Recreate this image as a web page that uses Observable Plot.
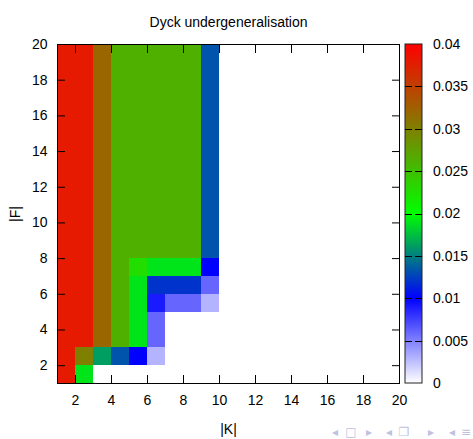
<!DOCTYPE html>
<html><head><meta charset="utf-8">
<script src="https://cdn.jsdelivr.net/npm/d3@7"></script>
<script src="https://cdn.jsdelivr.net/npm/@observablehq/plot@0.6"></script>
<style>body{margin:0;background:#fff} svg{display:block}</style>
</head><body><div id="chart"></div>
<script>
const title = "Dyck undergeneralisation";
const xLabel = "|K|";
const yLabel = "|F|";
const kTicks = [2, 4, 6, 8, 10, 12, 14, 16, 18, 20];
const fTicks = [2, 4, 6, 8, 10, 12, 14, 16, 18, 20];
const colorTicks = [0, 0.005, 0.01, 0.015, 0.02, 0.025, 0.03, 0.035, 0.04];
const colorTickLabels = ["0", "0.005", "0.01", "0.015", "0.02", "0.025", "0.03", "0.035", "0.04"];
const colorStops = [0, 0.01, 0.02, 0.04];
const colorRange = ["#ffffff", "#0000ff", "#00ff00", "#ff0000"];
const navSymbols = ["◂", "□", "▸", "◂", "❐", "▸", "◂", "≡"];

// values per row, for |K| = 1, 2, 3, ... (row starts at the given |F|)
const rowF1 = [0.038, 0.019];
const rowF2 = [0.038, 0.030, 0.0162, 0.0133, 0.010, 0.003];
const rowF3 = [0.038, 0.038, 0.032, 0.0262, 0.019, 0.006];
const rowF4 = [0.038, 0.038, 0.032, 0.0262, 0.019, 0.006];
const rowF5 = [0.038, 0.038, 0.032, 0.0262, 0.019, 0.009, 0.006, 0.006, 0.003];
const rowF6 = [0.038, 0.038, 0.032, 0.0262, 0.019, 0.012, 0.012, 0.012, 0.006];
const rowF7 = [0.038, 0.038, 0.032, 0.0262, 0.0227, 0.019, 0.019, 0.019, 0.010];
const rowUpper = [0.038, 0.038, 0.032, 0.0262, 0.0262, 0.0262, 0.0262, 0.0262, 0.0133];
const upperF = [8, 9, 10, 11, 12, 13, 14, 15, 16, 17, 18, 19];

const rows = [[1, rowF1], [2, rowF2], [3, rowF3], [4, rowF4], [5, rowF5], [6, rowF6], [7, rowF7]]
  .concat(upperF.map(f => [f, rowUpper]));
const cells = [];
rows.forEach(([f, vals]) => vals.forEach((v, i) => cells.push({k: i + 1, f, v})));

const font = "'Liberation Sans', Arial, Helvetica, sans-serif";
const fs = 14;

const plot = Plot.plot({
  width: 473, height: 439,
  marginTop: 44, marginLeft: 57, marginRight: 74, marginBottom: 56,
  style: {fontFamily: font, fontSize: fs + "px", color: "#000", background: "#fff"},
  x: {domain: [1, 20]},
  y: {domain: [1, 20]},
  color: {type: "linear", domain: colorStops, range: colorRange, interpolate: "rgb"},
  marks: [
    Plot.rect(cells, {x1: "k", x2: d => d.k + 1, y1: "f", y2: d => d.f + 1, fill: "v", inset: 0, shapeRendering: "crispEdges"}),
    Plot.frame({stroke: "#000", strokeWidth: 1}),
    Plot.axisX({anchor: "bottom", ticks: kTicks, tickSize: 0, tickPadding: 12, fontSize: fs, tickFormat: d => d, label: xLabel, labelAnchor: "center", labelArrow: "none", labelOffset: 50}),
    Plot.axisX({anchor: "bottom", ticks: kTicks, tickSize: -8, text: null, label: null, stroke: "#000"}),
    Plot.axisX({anchor: "top", ticks: kTicks, tickSize: -8, text: null, label: null, stroke: "#000"}),
    Plot.axisY({anchor: "left", ticks: fTicks, tickSize: 0, tickPadding: 10, fontSize: fs, tickFormat: d => d, label: yLabel, labelAnchor: "center", labelArrow: "none", labelOffset: 47}),
    Plot.axisY({anchor: "left", ticks: fTicks, tickSize: -8, text: null, label: null, stroke: "#000"}),
    Plot.axisY({anchor: "right", ticks: fTicks, tickSize: -8, text: null, label: null, stroke: "#000"}),
    Plot.text([title], {text: d => d, frameAnchor: "top", dy: -27, fontSize: fs})
  ]
});

// colour bar legend
const svg = d3.select(plot.tagName === "svg" ? plot : plot.querySelector("svg"));
const barX = 405, barW = 17, barTop = 44, barBottom = 383;
const cmax = colorTicks[colorTicks.length - 1];
const cy = d3.scaleLinear().domain([0, cmax]).range([barBottom, barTop]);
const defs = svg.append("defs");
const grad = defs.append("linearGradient").attr("id", "cbgrad")
  .attr("x1", 0).attr("y1", 1).attr("x2", 0).attr("y2", 0);
colorStops.forEach((s, i) => grad.append("stop").attr("offset", s / cmax).attr("stop-color", colorRange[i]));
const g = svg.append("g").attr("text-anchor", "start");
g.append("rect").attr("x", barX).attr("y", barTop).attr("width", barW).attr("height", barBottom - barTop)
  .attr("fill", "url(#cbgrad)").attr("stroke", "#222").attr("stroke-width", 1);
colorTicks.forEach((t, i) => {
  const y = Math.round(cy(t)) + 0.5;
  if (i > 0 && i < colorTicks.length - 1) {
    g.append("line").attr("x1", barX).attr("x2", barX + 7).attr("y1", y).attr("y2", y).attr("stroke", "#000");
    g.append("line").attr("x1", barX + barW - 7).attr("x2", barX + barW).attr("y1", y).attr("y2", y).attr("stroke", "#000");
  }
  g.append("text").attr("x", 433).attr("y", cy(t)).attr("dy", "0.35em").attr("text-anchor", "start")
    .attr("font-family", font).attr("font-size", fs).attr("fill", "#000").text(colorTickLabels[i]);
});

// beamer navigation symbols
const navX = [335, 351, 369, 389, 404, 431, 452, 466];
navSymbols.forEach((s, i) => {
  svg.append("text").attr("x", navX[i]).attr("y", 432).attr("dy", "0.35em").attr("text-anchor", "middle")
    .attr("font-family", "DejaVu Sans, sans-serif").attr("font-size", 12).attr("fill", "#c0c0e0").text(s);
});

document.getElementById("chart").appendChild(plot);
</script>
</body></html>
